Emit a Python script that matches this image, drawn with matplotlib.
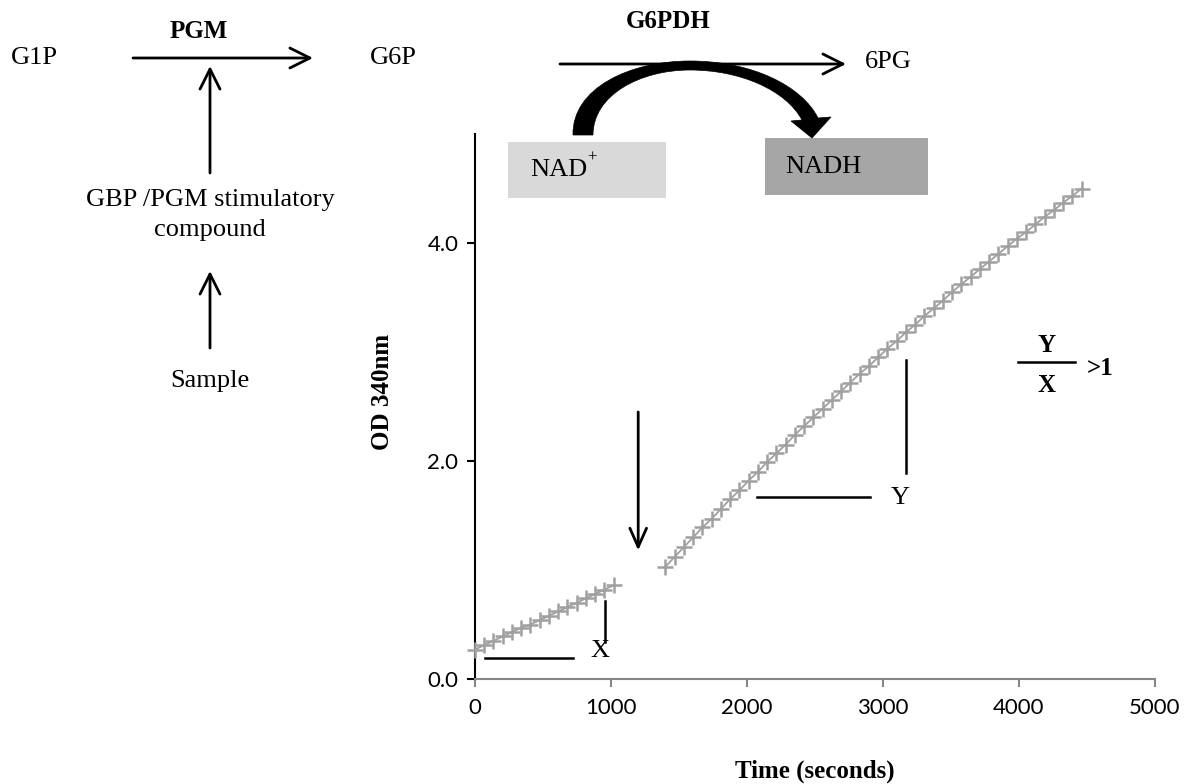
import matplotlib
matplotlib.use("Agg")
import matplotlib.pyplot as plt
from matplotlib.path import Path
from matplotlib.patches import PathPatch, Rectangle

# ---------------- data ----------------
t_before = [0, 68, 136, 204, 272, 340, 408, 476, 544, 612, 680, 748, 816, 884, 952, 1020]
od_before = [0.27, 0.31, 0.35, 0.39, 0.43, 0.47, 0.50, 0.54, 0.58, 0.62, 0.66, 0.70,
             0.74, 0.78, 0.82, 0.86]
t_after = [1400, 1468, 1536, 1604, 1672, 1740, 1808, 1876, 1944, 2012, 2080, 2148,
           2216, 2284, 2352, 2420, 2488, 2556, 2624, 2692, 2760, 2828, 2896, 2964,
           3032, 3100, 3168, 3236, 3304, 3372, 3440, 3508, 3576, 3644, 3712, 3780,
           3848, 3916, 3984, 4052, 4120, 4188, 4256, 4324, 4392, 4460]
od_after = [1.03, 1.12, 1.21, 1.30, 1.39, 1.47, 1.56, 1.65, 1.73, 1.82, 1.90, 1.99,
            2.07, 2.15, 2.24, 2.32, 2.40, 2.48, 2.56, 2.64, 2.72, 2.80, 2.87, 2.95,
            3.03, 3.10, 3.18, 3.25, 3.33, 3.40, 3.47, 3.55, 3.62, 3.69, 3.76, 3.83,
            3.90, 3.97, 4.04, 4.10, 4.17, 4.24, 4.30, 4.37, 4.43, 4.50]
x_ticks = [0, 1000, 2000, 3000, 4000, 5000]
y_ticks = [0.0, 2.0, 4.0]
y_tick_labels = ["0.0", "2.0", "4.0"]

W, H = 1191, 784
SERIF = "Liberation Serif"
SANS = "Lato"
FS = 19
FSB = 18

fig = plt.figure(figsize=(W / 100, H / 100), dpi=100)
fig.patch.set_facecolor("white")


def P(px, py):
    return (px / W, 1 - py / H)


ax = fig.add_axes([475 / W, 1 - 679 / H, 680 / W, 545 / H])
ax.set_xlim(0, 5000)
ax.set_ylim(0, 5.0)
ax.set_facecolor("none")

gray = "#a0a0a0"
for tt, yy in ((t_before, od_before), (t_after, od_after)):
    ax.plot(tt, yy, color=gray, lw=1.3, marker="+", ms=12, mew=1.8,
            clip_on=False, zorder=3)

for s in ("top", "right"):
    ax.spines[s].set_visible(False)
ax.spines["left"].set_color("black")
ax.spines["left"].set_linewidth(1.5)
ax.spines["bottom"].set_color("#868686")
ax.spines["bottom"].set_linewidth(1.5)

ax.set_xticks(x_ticks)
ax.set_xticklabels([str(v) for v in x_ticks], fontfamily=SANS, fontsize=16)
ax.set_yticks(y_ticks)
ax.set_yticklabels(y_tick_labels, fontfamily=SANS, fontsize=16)
ax.tick_params(axis="x", direction="out", length=6, width=1.5, color="#868686", pad=8)
ax.tick_params(axis="y", direction="out", length=6, width=1.5, color="black", pad=6)

ax.set_ylabel("OD 340nm", fontfamily=SERIF, fontweight="bold", fontsize=FSB)
ax.yaxis.set_label_coords((394 - 475) / 680, (679 - 392) / 545)
fig.text(*P(815, 771), "Time (seconds)", fontfamily=SERIF, fontweight="bold",
         fontsize=FSB, ha="center", va="center")

# chart annotations (data coordinates)
ax.annotate("", xy=(1200, 1.18), xytext=(1200, 2.45),
            arrowprops=dict(arrowstyle="->,head_length=0.9,head_width=0.4", lw=2,
                            color="black", shrinkA=0, shrinkB=0, mutation_scale=15))
ax.plot([74, 720], [0.19, 0.19], color="black", lw=1.8)
ax.plot([956, 956], [0.34, 0.72], color="black", lw=1.8)
ax.text(919, 0.26, "X", fontfamily=SERIF, fontsize=FS, ha="center", va="center")
ax.plot([2074, 2904], [1.67, 1.67], color="black", lw=1.8)
ax.plot([3169, 3169], [1.89, 2.93], color="black", lw=1.8)
ax.text(3125, 1.66, "Y", fontfamily=SERIF, fontsize=FS, ha="center", va="center")

fig.text(*P(1047, 346), "Y", fontfamily=SERIF, fontweight="bold", fontsize=FSB,
         ha="center", va="center")
fig.text(*P(1047, 386), "X", fontfamily=SERIF, fontweight="bold", fontsize=FSB,
         ha="center", va="center")
fig.add_artist(plt.Line2D([1018 / W, 1075 / W], [1 - 362 / H, 1 - 362 / H],
                          color="black", lw=1.8, transform=fig.transFigure))
fig.text(*P(1100, 368), ">1", fontfamily=SERIF, fontweight="bold", fontsize=FSB,
         ha="center", va="center")

# ---------------- pathway diagram ----------------
def farrow(p0, p1, lw=2):
    fig.add_artist(matplotlib.patches.FancyArrowPatch(
        P(*p0), P(*p1), transform=fig.transFigure,
        arrowstyle="->,head_length=0.9,head_width=0.45", mutation_scale=16,
        lw=lw, color="black", shrinkA=0, shrinkB=0))


def ftext(px, py, s, bold=False, ha="center"):
    fig.text(*P(px, py), s, fontfamily=SERIF, fontsize=FSB if bold else FS,
             fontweight="bold" if bold else "normal", ha=ha, va="center")


ftext(34, 58, "G1P")
ftext(199, 32, "PGM", bold=True)
farrow((133, 58), (313, 58))
farrow((210, 173), (210, 66))
ftext(210, 200, "GBP /PGM stimulatory")
ftext(210, 230, "compound")
farrow((210, 348), (210, 271))
ftext(210, 381, "Sample")
ftext(393, 58, "G6P")
ftext(668, 22, "G6PDH", bold=True)
farrow((560, 64), (846, 64))
ftext(888, 62, "6PG")

# boxes
fig.add_artist(Rectangle(P(508, 198), 158 / W, 56 / H, transform=fig.transFigure,
                         facecolor="#d9d9d9", edgecolor="none", zorder=1))
fig.add_artist(Rectangle(P(765, 195), 163 / W, 57 / H, transform=fig.transFigure,
                         facecolor="#a6a6a6", edgecolor="none", zorder=1))
fig.text(*P(530, 170), "NAD", fontfamily=SERIF, fontsize=FS, ha="left", va="center")
fig.text(*P(587.5, 158), "+", fontfamily=SERIF, fontsize=12, ha="left", va="center")
ftext(785, 167, "NADH", ha="left")

# curved thick arrow
pts_px = [
    (573, 135), (572, 88), (630, 61), (690, 61),
    (752, 61), (802, 86), (818, 118),
    (831, 117), (812, 138), (791, 121), (802, 120),
    (786, 90), (740, 70), (690, 70),
    (640, 70), (593, 95), (593, 135),
    (573, 135),
]
codes = [Path.MOVETO, Path.CURVE4, Path.CURVE4, Path.CURVE4,
         Path.CURVE4, Path.CURVE4, Path.CURVE4,
         Path.LINETO, Path.LINETO, Path.LINETO, Path.LINETO,
         Path.CURVE4, Path.CURVE4, Path.CURVE4,
         Path.CURVE4, Path.CURVE4, Path.CURVE4,
         Path.CLOSEPOLY]
verts = [P(*p) for p in pts_px]
fig.add_artist(PathPatch(Path(verts, codes), transform=fig.transFigure,
                         facecolor="black", edgecolor="black", lw=0.5, zorder=4))

fig.savefig("out.png", dpi=100, facecolor="white")
